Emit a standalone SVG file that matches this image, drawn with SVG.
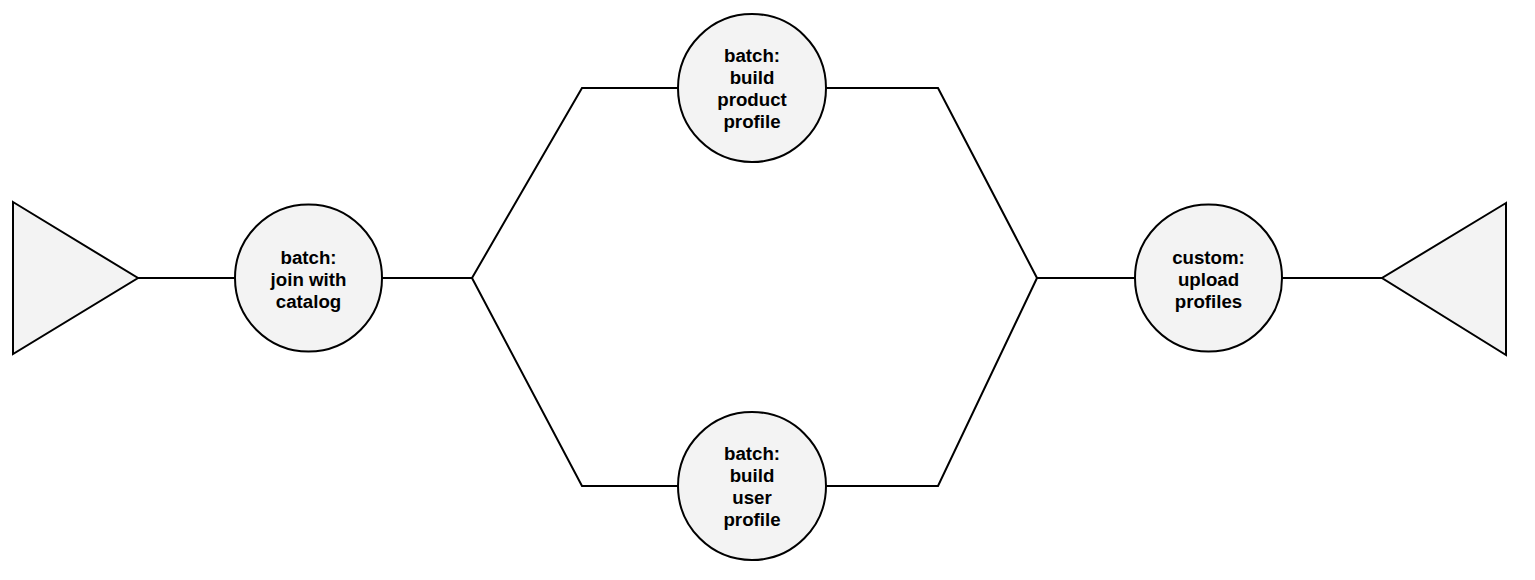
<svg xmlns="http://www.w3.org/2000/svg" width="1535" height="580" viewBox="0 0 1535 580">
<style>
.shape{fill:#f3f3f3;stroke:#000;stroke-width:2}
.edge{fill:none;stroke:#000;stroke-width:2;stroke-linejoin:miter}
text{font-family:"Liberation Sans",Arial,sans-serif;font-weight:bold;font-size:18.7px;text-anchor:middle;fill:#000}
</style>
<rect width="1535" height="580" fill="#fff"/>
<g id="connectors">
<line class="edge" x1="138" y1="278" x2="235" y2="278"/>
<line class="edge" x1="382" y1="278" x2="472" y2="278"/>
<polyline class="edge" points="472,278 582,88 678,88"/>
<polyline class="edge" points="472,278 582,486 678,486"/>
<polyline class="edge" points="826,88 938,88 1037,278"/>
<polyline class="edge" points="826,486 938,486 1037,278"/>
<line class="edge" x1="1037" y1="278" x2="1135" y2="278"/>
<line class="edge" x1="1282" y1="278" x2="1382" y2="278"/>
</g>
<g id="source">
<polygon class="shape" points="13,202 138,278 13,354"/>
</g>
<g id="join">
<circle class="shape" cx="308.5" cy="278" r="73.5"/>
<text x="308.5" y="264">batch:</text>
<text x="308.5" y="286">join with</text>
<text x="308.5" y="308">catalog</text>
</g>
<g id="product">
<circle class="shape" cx="752" cy="88" r="74"/>
<text x="752" y="62">batch:</text>
<text x="752" y="84">build</text>
<text x="752" y="106">product</text>
<text x="752" y="128">profile</text>
</g>
<g id="user">
<circle class="shape" cx="752" cy="486" r="74"/>
<text x="752" y="460">batch:</text>
<text x="752" y="482">build</text>
<text x="752" y="504">user</text>
<text x="752" y="526">profile</text>
</g>
<g id="upload">
<circle class="shape" cx="1208.5" cy="278" r="73.5"/>
<text x="1208.5" y="264">custom:</text>
<text x="1208.5" y="286">upload</text>
<text x="1208.5" y="308">profiles</text>
</g>
<g id="sink">
<polygon class="shape" points="1506,203 1382,278 1506,355"/>
</g>
</svg>
